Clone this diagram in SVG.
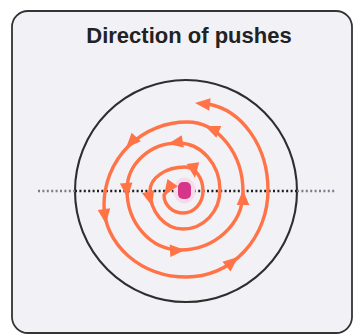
<svg xmlns="http://www.w3.org/2000/svg" width="354" height="336" viewBox="0 0 354 336">
  <defs>
    <style>
      .title { font-family: "Liberation Sans", Arial, sans-serif; font-weight: bold; font-size: 22px; fill: #222; }
      .spiral { fill: none; stroke: #ff7346; stroke-width: 3.4; stroke-linecap: round; }
      .head { fill: #ff7346; }
      .dots { stroke-width: 2.4; stroke-dasharray: 2 2.4; fill: none; }
    </style>
    <path id="ah" d="M0,0 L-15,-6.3 L-15,6.3 Z"/>
  </defs>

  <rect width="354" height="336" fill="#ffffff"/>

  <g id="frame">
    <rect x="12" y="11" width="340" height="322" rx="16" fill="#f2f1f6" stroke="#333333" stroke-width="1.8"/>
  </g>

  <g id="title">
    <text class="title" x="189" y="43" text-anchor="middle">Direction of pushes</text>
  </g>

  <g id="circle">
    <circle cx="186" cy="191" r="111" fill="none" stroke="#2e2e2e" stroke-width="2.1"/>
  </g>

  <g id="axis">
    <line class="dots" x1="38" y1="191" x2="75" y2="191" stroke="#7d7d8a"/>
    <line class="dots" x1="75" y1="191" x2="297" y2="191" stroke="#1e1e1e"/>
    <line class="dots" x1="297" y1="191" x2="336" y2="191" stroke="#7d7d8a"/>
  </g>

  <g id="center-dot">
    <ellipse cx="184.5" cy="190.5" rx="11" ry="13" fill="#f6dcea"/>
    <rect x="178" y="182" width="13" height="17" rx="5" fill="#d6358a"/>
  </g>

  <g id="connectors">
    <path class="spiral" d="M172,185 L164,195
      A19,18 0 0 0 183,213
      A20,22 0 0 0 203,191
      A18,24 0 0 0 185,167
      A35,24 0 0 0 150,191
      A33,38 0 0 0 183,229
      A37,39 0 0 0 220,190
      A42,47 0 0 0 178,143
      A51,47 0 0 0 127,190
      A53,60 0 0 0 180,250
      A63,58 0 0 0 243,192
      A56,70 0 0 0 187,122
      A83,83 0 0 0 104,205
      A83,72 0 0 0 187,277
      A81,87 0 0 0 268,190
      A70,87 0 0 0 208,104"/>
    <g class="head">
      <use href="#ah" transform="translate(164,195) rotate(125)"/>
      <use href="#ah" transform="translate(195,178) rotate(82)"/>
      <use href="#ah" transform="translate(152,206) rotate(75)"/>
      <use href="#ah" transform="translate(168,144) rotate(170)"/>
      <use href="#ah" transform="translate(127.5,198) rotate(85)"/>
      <use href="#ah" transform="translate(205,126) rotate(203)"/>
      <use href="#ah" transform="translate(126,148) rotate(133)"/>
      <use href="#ah" transform="translate(243,190) rotate(-90)"/>
      <use href="#ah" transform="translate(185,250) rotate(-3)"/>
      <use href="#ah" transform="translate(106,224) rotate(82)"/>
      <use href="#ah" transform="translate(238,257) rotate(-40)"/>
      <use href="#ah" transform="translate(195,103) rotate(186)"/>
    </g>
  </g>
</svg>
